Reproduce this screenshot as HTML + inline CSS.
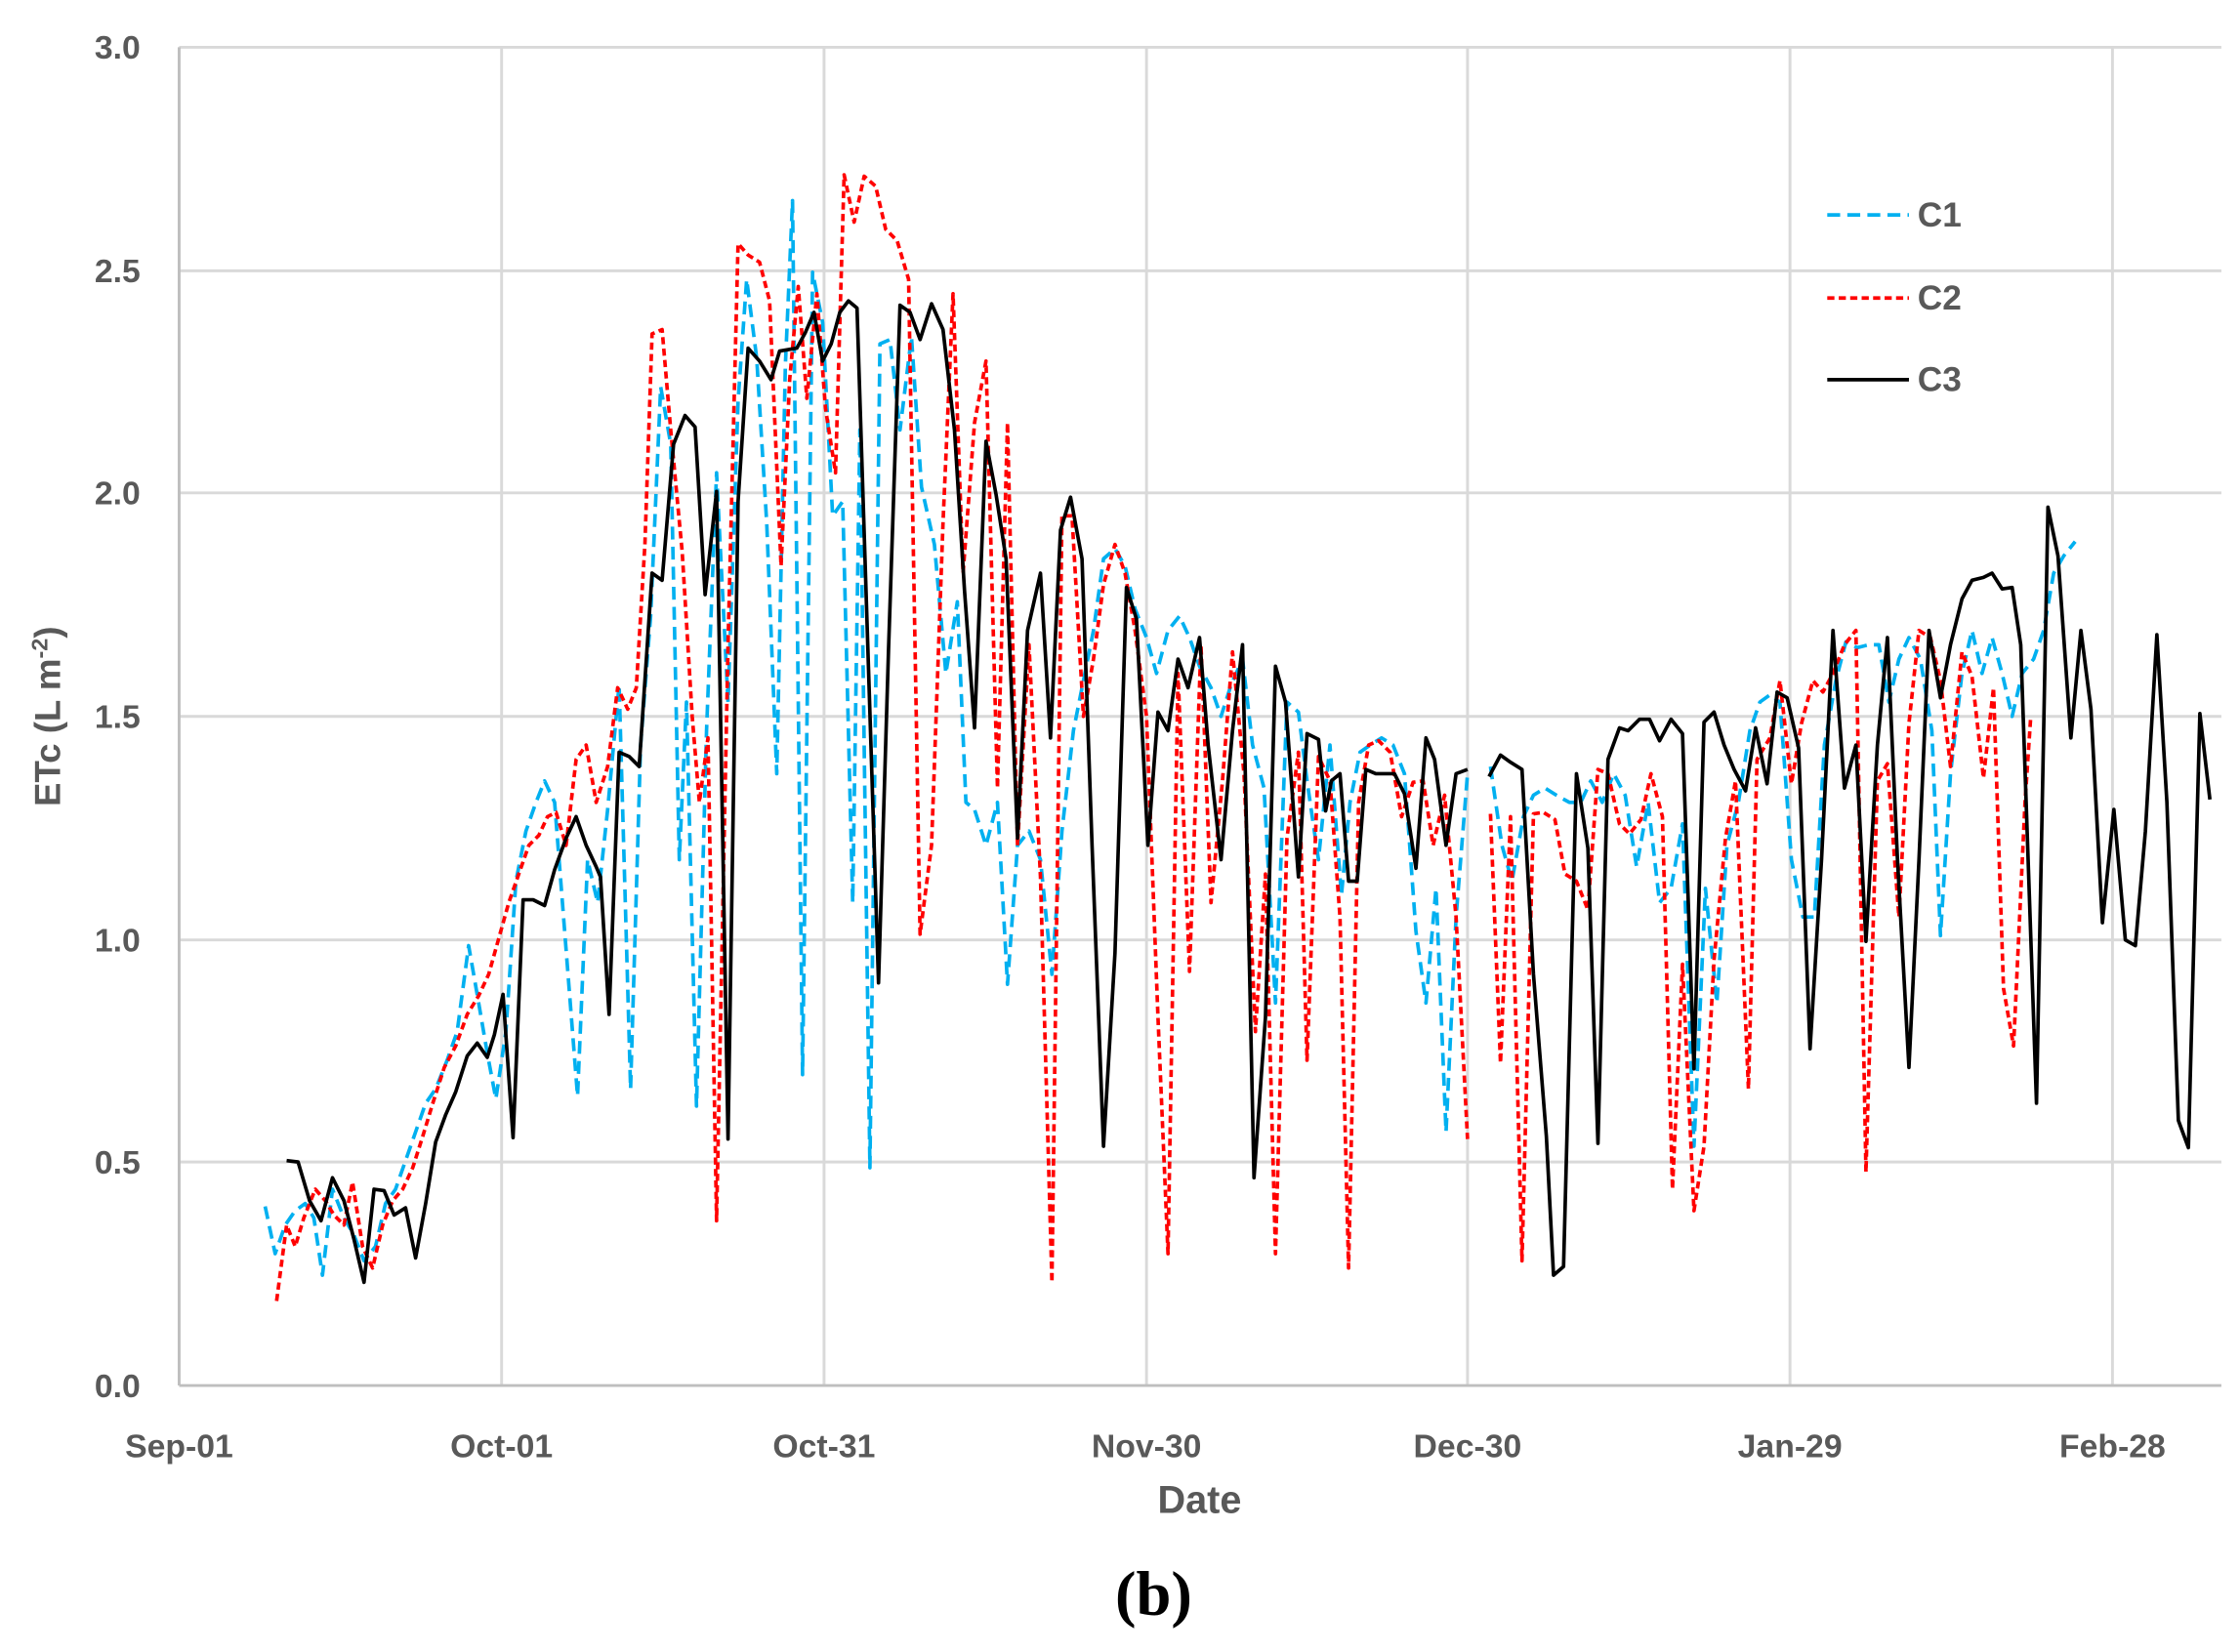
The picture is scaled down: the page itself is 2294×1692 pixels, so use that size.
<!DOCTYPE html>
<html><head><meta charset="utf-8"><style>html,body{margin:0;padding:0;background:#fff}svg{display:block}</style></head>
<body>
<svg width="2294" height="1692" viewBox="0 0 1563 1153" preserveAspectRatio="none" xmlns="http://www.w3.org/2000/svg">
<rect width="1563" height="1153" fill="#fff"/>
<g stroke="#d9d9d9" stroke-width="2">
<line x1="125" y1="33" x2="1550" y2="33"/><line x1="125" y1="189" x2="1550" y2="189"/><line x1="125" y1="344" x2="1550" y2="344"/><line x1="125" y1="500" x2="1550" y2="500"/><line x1="125" y1="656" x2="1550" y2="656"/><line x1="125" y1="811" x2="1550" y2="811"/>
<line x1="350" y1="33" x2="350" y2="967"/><line x1="575" y1="33" x2="575" y2="967"/><line x1="800" y1="33" x2="800" y2="967"/><line x1="1024" y1="33" x2="1024" y2="967"/><line x1="1249" y1="33" x2="1249" y2="967"/><line x1="1474" y1="33" x2="1474" y2="967"/>
</g>
<g stroke="#bfbfbf" stroke-width="2"><line x1="125" y1="33" x2="125" y2="967"/><line x1="125" y1="967" x2="1550" y2="967"/></g>
<g font-family="Liberation Sans, sans-serif" font-weight="bold" fill="#595959" font-size="23">
<g text-anchor="end"><text x="98" y="41">3.0</text><text x="98" y="197">2.5</text><text x="98" y="352">2.0</text><text x="98" y="508">1.5</text><text x="98" y="664">1.0</text><text x="98" y="819">0.5</text><text x="98" y="975">0.0</text></g>
<g text-anchor="middle"><text x="125" y="1017">Sep-01</text><text x="350" y="1017">Oct-01</text><text x="575" y="1017">Oct-31</text><text x="800" y="1017">Nov-30</text><text x="1024" y="1017">Dec-30</text><text x="1249" y="1017">Jan-29</text><text x="1474" y="1017">Feb-28</text>
<text x="837" y="1056" font-size="27">Date</text></g>
<text transform="translate(42,500) rotate(-90)" text-anchor="middle" font-size="25">ETc (L m<tspan dy="-9" font-size="16">-2</tspan><tspan dy="9">)</tspan></text>
<text x="1338" y="158" font-size="24">C1</text><text x="1338" y="216" font-size="24">C2</text><text x="1338" y="273" font-size="24">C3</text>
</g>
<line x1="1275" y1="150" x2="1332" y2="150" stroke="#00b0f0" stroke-width="2.5" stroke-dasharray="9,5"/>
<line x1="1275" y1="208" x2="1332" y2="208" stroke="#ff0000" stroke-width="2.5" stroke-dasharray="5,3"/>
<line x1="1275" y1="265" x2="1332" y2="265" stroke="#000" stroke-width="2.5"/>
<g fill="none" stroke-width="2.5" stroke-linejoin="round">
<g stroke="#00b0f0" stroke-dasharray="9,5">
<polyline points="185,842 192,875 199,855 206,845 213,840 219,850 225,890 232,830 240,850 247,862 254,880 262,870 269,840 276,830 283,810 290,790 297,770 304,760 312,740 319,720 327,660 334,700 340,735 346,767 353,720 360,615 367,580 374,560 380,545 387,560 394,650 403,765 410,600 417,630 424,565 432,478 440,760 447,520 454,430 461,270 468,310 474,600 479,490 486,772 493,510 500,330 508,490 515,280 521,195 528,250 535,365 542,540 548,255 553,140 560,750 567,190 574,225 581,360 588,350 595,630 600,300 607,815 614,240 621,237 628,300 636,235 643,340 652,380 660,470 668,420 674,560 680,565 688,590 696,560 703,687 710,590 718,580 726,600 734,680 741,580 749,510 756,475 763,440 770,390 778,383 785,395 792,425 800,445 807,470 815,440 823,430 830,445 837,465 845,480 852,500 859,478 867,460 874,520 882,550 890,700 898,490 906,497 912,545 920,600 928,520 936,625 942,560 949,525 956,520 964,515 972,520 980,540 988,650 995,700 1002,620 1009,790 1016,640 1024,540"/>
<polyline points="1040,535 1048,590 1055,615 1063,570 1070,555 1078,550 1086,555 1095,560 1103,560 1110,545 1118,560 1126,540 1134,555 1142,605 1150,560 1158,630 1166,620 1174,575 1182,800 1190,620 1198,700 1205,590 1213,560 1221,510 1228,490 1235,485 1242,490 1250,600 1258,640 1266,640 1273,520 1281,475 1288,448 1296,452 1304,450 1311,450 1318,490 1325,460 1332,445 1340,460 1348,510 1354,653 1361,540 1369,470 1376,440 1383,470 1390,445 1397,470 1404,500 1411,470 1419,460 1426,440 1433,400 1440,388 1448,378"/>
</g>
<g stroke="#ff0000" stroke-dasharray="5,3">
<polyline points="193,908 200,855 206,870 212,850 220,830 227,838 233,848 240,855 246,825 253,870 260,885 267,855 274,838 281,830 288,815 295,793 302,770 310,745 318,730 326,708 334,695 341,680 348,655 355,630 362,610 369,590 376,583 382,570 388,567 395,590 402,530 409,520 416,560 424,535 431,480 438,495 444,480 450,380 455,233 462,230 468,300 476,385 483,500 488,560 494,515 500,852 508,450 515,170 522,178 530,183 537,210 545,395 551,265 557,200 563,278 570,205 576,285 583,330 589,122 596,155 603,123 611,130 618,160 626,168 634,195 642,652 650,590 658,365 665,205 672,400 680,295 688,252 696,550 703,295 710,590 718,450 726,612 734,895 741,360 748,360 756,500 763,460 770,408 778,380 785,400 792,440 800,500 808,710 815,875 822,470 830,678 838,450 845,630 853,545 860,455 868,540 876,720 883,610 890,875 898,585 906,525 912,740 920,528 928,545 935,640 941,885 948,560 955,520 962,517 970,525 978,570 986,546 993,545 1000,590 1008,555 1016,640 1024,795"/>
<polyline points="1040,568 1047,742 1054,570 1062,880 1070,568 1077,567 1085,572 1092,610 1100,615 1108,635 1115,537 1122,540 1130,575 1137,582 1145,572 1152,540 1160,570 1167,830 1174,673 1182,845 1189,800 1196,670 1204,585 1211,545 1220,760 1226,530 1235,515 1242,475 1250,547 1257,505 1265,475 1272,483 1279,470 1287,450 1295,440 1302,818 1310,545 1317,533 1325,640 1332,505 1339,440 1347,445 1354,475 1361,535 1369,455 1376,472 1384,543 1391,480 1398,690 1405,730 1413,560 1417,500"/>
</g>
<g stroke="#000">
<polyline points="200,810 208,811 216,838 224,852 232,822 240,838 247,865 254,895 261,830 268,831 275,848 283,843 290,878 297,840 304,797 311,778 318,762 326,737 333,728 340,738 345,722 351,694 358,794 365,628 372,628 380,632 387,607 395,585 402,570 409,590 416,605 419,612 425,708 432,525 439,528 446,535 455,400 462,405 470,310 478,290 485,298 492,415 500,343 508,795 515,350 522,243 530,252 538,265 544,245 550,244 556,243 562,232 568,218 574,252 580,240 586,218 592,210 598,215 613,686 620,453 628,213 635,218 642,237 650,212 658,230 666,300 673,412 680,508 688,308 695,345 702,390 710,585 717,440 726,400 733,515 740,370 747,347 755,390 762,590 770,800 778,665 786,410 793,432 801,590 808,497 815,510 822,460 829,480 837,445 843,520 852,600 860,510 867,450 875,822 883,710 890,465 897,490 906,612 912,512 920,516 925,566 929,545 935,540 941,615 947,615 953,537 960,540 967,540 973,540 980,554 988,606 995,515 1001,530 1009,590 1016,540 1024,537"/>
<polyline points="1039,542 1047,527 1054,532 1062,537 1070,680 1079,793 1084,890 1091,884 1100,540 1108,592 1115,798 1122,530 1130,508 1136,510 1144,502 1151,502 1158,517 1166,502 1174,512 1182,746 1189,504 1196,497 1203,520 1210,537 1218,552 1225,508 1233,547 1240,483 1247,487 1255,522 1263,732 1271,600 1279,440 1287,550 1295,520 1302,657 1310,520 1317,445 1324,600 1332,745 1339,600 1346,440 1354,487 1361,450 1369,418 1376,405 1384,403 1390,400 1397,411 1404,410 1410,450 1421,770 1429,354 1436,388 1445,515 1452,440 1459,495 1467,644 1475,565 1483,656 1490,660 1497,580 1505,443 1512,560 1520,782 1527,801 1535,498 1542,558"/>
</g>
</g>
<text x="805" y="1127" text-anchor="middle" font-family="Liberation Serif, serif" font-weight="bold" font-size="44" fill="#000">(b)</text>
</svg>
</body></html>
